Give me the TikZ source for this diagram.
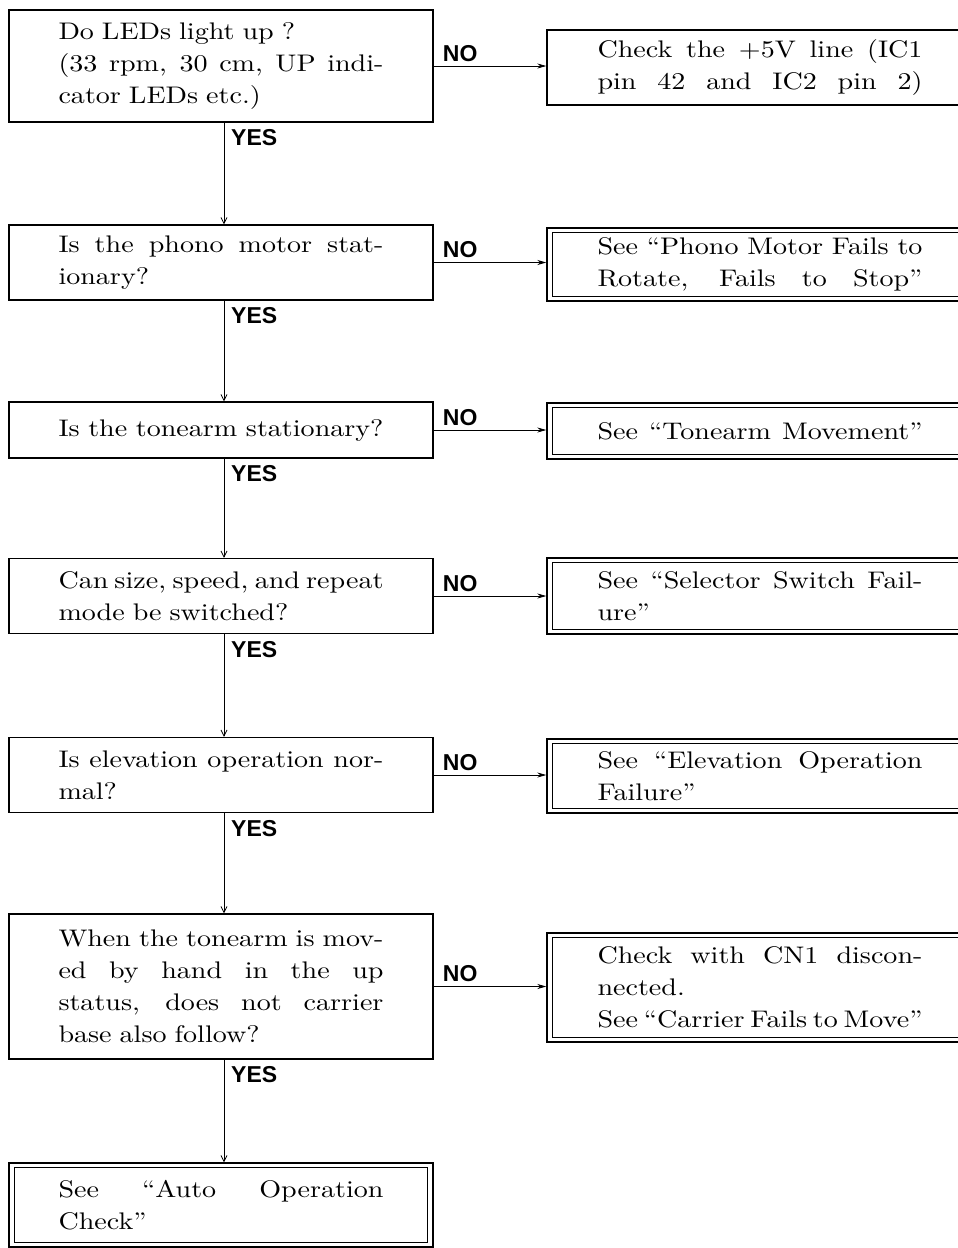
\documentclass[tikz,border=0pt]{standalone}
\usepackage{fontspec}
\newfontfamily\lblfont{Liberation Sans}
\newfontfamily\bodyfont{lmroman10-regular.otf}[Ligatures=TeX, FakeStretch=1.17]
\usetikzlibrary{arrows.meta,calc}
\newcommand{\J}[1]{\leavevmode\hbox to 325pt{\spaceskip=0.333em plus 1fil minus 0.1em\relax #1}}
\tikzset{
  txt/.style={font=\bodyfont\fontsize{24}{32}\selectfont, text width=325pt, align=left, inner sep=0pt},
  lbox/.style={txt, draw, line width=1.4pt, minimum width=424pt},
  rbox/.style={txt, draw, line width=1.4pt, minimum width=426pt},
  yn/.style={font=\lblfont\bfseries\fontsize{23}{25}\selectfont, inner sep=0pt},
  harr/.style={line width=0.8pt, -{Stealth[length=9pt,width=5pt]}},
  varr/.style={line width=0.8pt, -{Straight Barb[length=6pt,width=6pt]}},
  innerline/.style={line width=0.7pt}
}
\begin{document}
\begin{tikzpicture}[x=1pt,y=-1pt]
\useasboundingbox (0,0) rectangle (958,1248);
\clip (0,0) rectangle (958,1248);
\fill[white] (0,0) rectangle (958,1248);

% left column
\node[lbox, minimum height=112pt] (b1) at (221,66)
  {Do LEDs light up ?\\\J{(33 rpm, 30 cm, UP indi-}\\cator LEDs etc.)};
\node[lbox, minimum height=75pt] (b2) at (221,262.5)
  {\J{Is the phono motor stat-}\\ionary?};
\node[lbox, minimum height=56pt] (b3) at (221,430)
  {\J{Is the tonearm stationary?}};
\node[lbox, minimum height=75pt] (b4) at (221,596)
  {\J{Can size, speed, and repeat}\\mode be switched?};
\node[lbox, minimum height=75pt] (b5) at (221,775)
  {\J{Is elevation operation nor-}\\mal?};
\node[lbox, minimum height=145pt] (b6) at (221,986.5)
  {\J{When the tonearm is mov-}\\\J{ed by hand in the up}\\\J{status, does not carrier}\\base also follow?};
\node[lbox, minimum height=84pt] (b7) at (221,1205)
  {\J{See ``Auto Operation}\\Check''};

% right column
\node[rbox, minimum height=75pt] (r1) at (760,67.5)
  {\J{Check the +5V line (IC1}\\\J{pin 42 and IC2 pin 2)}};
\node[rbox, minimum height=73pt] (r2) at (760,264.5)
  {\J{See ``Phono Motor Fails to}\\\J{Rotate, Fails to Stop''}};
\node[rbox, minimum height=56pt] (r3) at (760,431)
  {\J{See ``Tonearm Movement''}};
\node[rbox, minimum height=76pt] (r4) at (760,596)
  {\J{See ``Selector Switch Fail-}\\ure''};
\node[rbox, minimum height=74pt] (r5) at (760,776)
  {\J{See ``Elevation Operation}\\Failure''};
\node[rbox, minimum height=109pt] (r6) at (760,987.5)
  {\J{Check with CN1 discon-}\\nected.\\\J{See ``Carrier Fails to Move''}};

% inner lines of the double boxes
\foreach \n in {r2,r3,r4,r5,r6,b7}
  \draw[innerline] ($(\n.north west)+(6,5)$) rectangle ($(\n.south east)+(-6,-5)$);

% YES connectors
\foreach \a/\b in {b1/b2,b2/b3,b3/b4,b4/b5,b5/b6,b6/b7}
  \draw[varr] ([xshift=3pt]\a.south) -- ([xshift=3pt]\b.north);

% YES labels
\foreach \a in {b1,b2,b3,b4,b5,b6}
  \node[yn, anchor=base west] at ([xshift=10pt,yshift=-23pt]\a.south) {YES};

% NO connectors and labels
\foreach \a/\b in {b1/r1,b2/r2,b3/r3,b4/r4,b5/r5,b6/r6} {
  \draw[harr] (\a.east) -- (\a.east -| \b.west);
  \node[yn, anchor=base west] at ([xshift=9pt,yshift=5pt]\a.east) {NO};
}
\end{tikzpicture}
\end{document}
